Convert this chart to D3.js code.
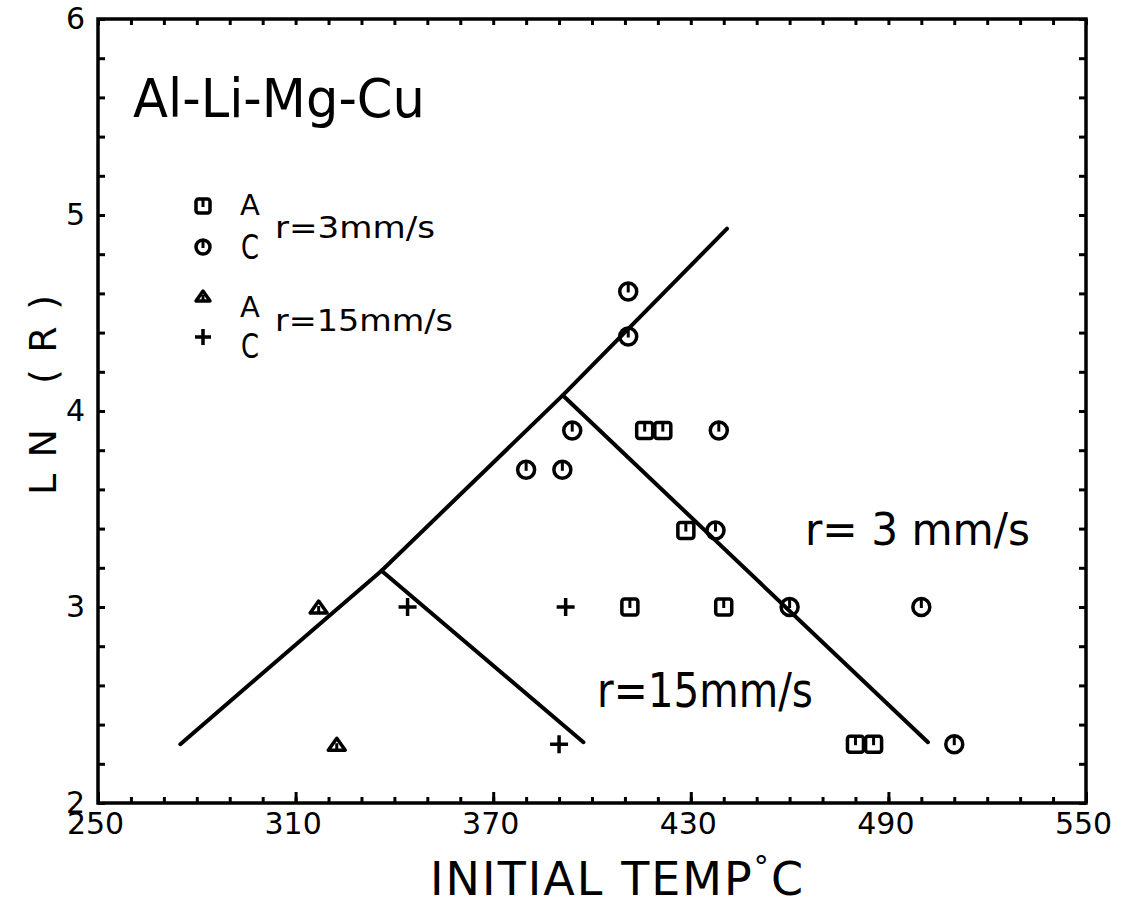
<!DOCTYPE html>
<html>
<head>
<meta charset="utf-8">
<script src="https://cdn.jsdelivr.net/npm/d3@7"></script>
<style>
  html, body { margin: 0; padding: 0; background: #fff; }
  svg { display: block; }
  text { font-family: "DejaVu Sans", sans-serif; fill: #000; }
</style>
</head>
<body>
<svg id="chart" width="1121" height="905"></svg>
<script>
// Axis ticks
const xTickLabels = [250, 310, 370, 430, 490, 550];
const yTickLabels = [2, 3, 4, 5, 6];

// Measured points: [initial temperature °C, ln(R)]
const squaresA3 = [[416, 3.9], [421.5, 3.9], [428.5, 3.39], [411.5, 3.0], [440, 3.0], [480, 2.3], [485.5, 2.3]];
const circlesC3 = [[411, 4.61], [411, 4.38], [394, 3.9], [380, 3.7], [391, 3.7], [438.5, 3.9], [437.5, 3.39], [460, 3.0], [500, 3.0], [510, 2.3]];
const trianglesA15 = [[317, 3.0], [322.5, 2.3]];
const plusesC15 = [[344, 3.0], [392, 3.0], [390, 2.3]];

// Boundary lines
const outerBoundary = [[275, 2.3], [336.1, 3.185], [391.1, 4.08], [441, 4.93]];
const boundary3 = [[391.1, 4.08], [502, 2.31]];
const boundary15 = [[336.1, 3.185], [397.4, 2.31]];

const svg = d3.select("#chart");
svg.append("rect").attr("width", 1121).attr("height", 905).attr("fill", "#fff");

const x = d3.scaleLinear().domain([250, 550]).range([98, 1086]);
const y = d3.scaleLinear().domain([2, 6]).range([803, 19]);
const [x0, x1] = x.range();
const [y0, y1] = y.range();

function styleAxis(g) {
  g.select(".domain").remove();
  g.selectAll(".tick line").attr("stroke", "#000").attr("stroke-width", 3);
  g.selectAll(".tick text").style("font-size", "30px").attr("fill", "#000");
}

// Minor ticks (inward)
svg.append("g").attr("transform", `translate(0,${y0})`)
  .call(d3.axisBottom(x).tickValues(d3.range(250, 551, 10)).tickSize(-6).tickFormat(""))
  .call(styleAxis);
svg.append("g").attr("transform", `translate(0,${y1})`)
  .call(d3.axisTop(x).tickValues(d3.range(250, 551, 10)).tickSize(-6).tickFormat(""))
  .call(styleAxis);
svg.append("g").attr("transform", `translate(${x0},0)`)
  .call(d3.axisLeft(y).tickValues(d3.range(2, 6.01, 0.2)).tickSize(-7).tickFormat(""))
  .call(styleAxis);
svg.append("g").attr("transform", `translate(${x1},0)`)
  .call(d3.axisRight(y).tickValues(d3.range(2, 6.01, 0.2)).tickSize(-7).tickFormat(""))
  .call(styleAxis);

// Major ticks with labels
svg.append("g").attr("transform", `translate(0,${y0})`)
  .call(d3.axisBottom(x).tickValues(xTickLabels).tickSize(-11).tickPadding(10).tickFormat(d3.format("d")))
  .call(styleAxis)
  .call(g => g.selectAll(".tick text").attr("dx", "-3"));
svg.append("g").attr("transform", `translate(${x0},0)`)
  .call(d3.axisLeft(y).tickValues(yTickLabels).tickSize(-7).tickPadding(13).tickFormat(d3.format("d")))
  .call(styleAxis);

// Frame
svg.append("rect")
  .attr("x", x0).attr("y", y1).attr("width", x1 - x0).attr("height", y0 - y1)
  .attr("fill", "none").attr("stroke", "#000").attr("stroke-width", 3.5);

// Boundary lines
const line = d3.line().x(d => x(d[0])).y(d => y(d[1]));
[outerBoundary, boundary3, boundary15].forEach(pts => {
  svg.append("path").attr("d", line(pts))
    .attr("fill", "none").attr("stroke", "#000").attr("stroke-width", 4)
    .attr("stroke-linecap", "round").attr("stroke-linejoin", "round");
});

// Marker symbols
function drawSquare(g, cx, cy, s) {
  const h = s / 2;
  g.append("rect").attr("x", cx - h).attr("y", cy - h).attr("width", s).attr("height", s).attr("rx", 2.5)
    .attr("fill", "none").attr("stroke", "#000").attr("stroke-width", 3.5);
  g.append("line").attr("x1", cx).attr("x2", cx).attr("y1", cy - h).attr("y2", cy + 1)
    .attr("stroke", "#000").attr("stroke-width", 3);
}
function drawCircle(g, cx, cy, s) {
  const r = s / 2;
  g.append("circle").attr("cx", cx).attr("cy", cy).attr("r", r)
    .attr("fill", "none").attr("stroke", "#000").attr("stroke-width", 3.5);
  g.append("line").attr("x1", cx).attr("x2", cx).attr("y1", cy - r).attr("y2", cy + 1)
    .attr("stroke", "#000").attr("stroke-width", 3);
}
function drawTriangle(g, cx, cy, s) {
  const h = s * 0.7;
  g.append("path")
    .attr("d", `M${cx - s / 2},${cy + h / 2}L${cx},${cy - h / 2}L${cx + s / 2},${cy + h / 2}Z`)
    .attr("fill", "none").attr("stroke", "#000").attr("stroke-width", 3.5).attr("stroke-linejoin", "round");
  g.append("line").attr("x1", cx).attr("x2", cx).attr("y1", cy - 1).attr("y2", cy + h / 2)
    .attr("stroke", "#000").attr("stroke-width", 3);
}
function drawPlus(g, cx, cy, s) {
  const h = s / 2;
  g.append("path").attr("d", `M${cx - h},${cy}H${cx + h}M${cx},${cy - h}V${cy + h}`)
    .attr("fill", "none").attr("stroke", "#000").attr("stroke-width", 3.5);
}

const marks = svg.append("g");
squaresA3.forEach(d => drawSquare(marks, x(d[0]), y(d[1]), 16));
circlesC3.forEach(d => drawCircle(marks, x(d[0]), y(d[1]), 17));
trianglesA15.forEach(d => drawTriangle(marks, x(d[0]), y(d[1]), 17));
plusesC15.forEach(d => drawPlus(marks, x(d[0]), y(d[1]), 18));

// Alloy title
svg.append("text").attr("x", 133).attr("y", 117)
  .attr("textLength", 292).attr("lengthAdjust", "spacingAndGlyphs")
  .style("font-size", "53px").text("Al-Li-Mg-Cu");

// Legend
const leg = svg.append("g");
drawSquare(leg, 203, 206, 14);
drawCircle(leg, 203, 247, 14);
drawTriangle(leg, 203, 296, 14);
drawPlus(leg, 203, 337, 16);
function legText(tx, ty, size, str, len) {
  const t = leg.append("text").attr("x", tx).attr("y", ty).style("font-size", size + "px").text(str);
  if (len) t.attr("textLength", len).attr("lengthAdjust", "spacingAndGlyphs");
}
legText(240, 215, 29, "A");
legText(241, 259, 34, "C", 18);
legText(275, 238, 30, "r=3mm/s", 160);
legText(240, 317, 29, "A");
legText(241, 358, 34, "C", 18);
legText(275, 331, 30, "r=15mm/s", 178);

// Region labels
svg.append("text").attr("x", 805).attr("y", 545)
  .attr("textLength", 225).attr("lengthAdjust", "spacingAndGlyphs")
  .style("font-size", "44px").text("r= 3 mm/s");
svg.append("text").attr("x", 597).attr("y", 707)
  .attr("textLength", 216).attr("lengthAdjust", "spacingAndGlyphs")
  .style("font-size", "48px").text("r=15mm/s");

// Axis titles
const xt = svg.append("text").attr("x", 430).attr("y", 895)
  .attr("textLength", 373).attr("lengthAdjust", "spacing")
  .style("font-size", "46px");
xt.append("tspan").text("INITIAL TEMP");
xt.append("tspan").attr("dy", -18).style("font-size", "30px").text("°");
xt.append("tspan").attr("dy", 18).text("C");

svg.append("text")
  .attr("transform", "translate(56,395) rotate(-90)")
  .attr("text-anchor", "middle")
  .attr("textLength", 200).attr("lengthAdjust", "spacing")
  .style("font-size", "38px").text("LN (R)");
</script>
</body>
</html>
